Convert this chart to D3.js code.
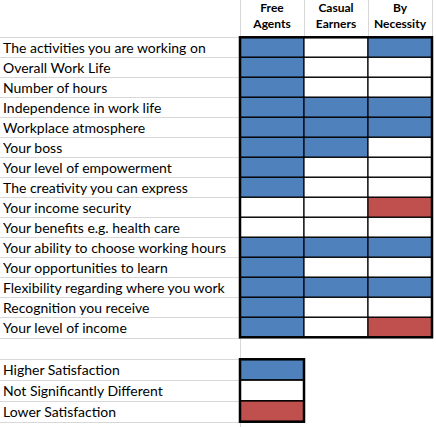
<!DOCTYPE html>
<html>
<head>
<meta charset="utf-8">
<script src="https://cdn.jsdelivr.net/npm/d3@7"></script>
<style>
  body { margin: 0; background: #fff; }
  text { font-family: Lato, "Open Sans", sans-serif; }
</style>
</head>
<body>
<script>
// satisfaction grid, one code per aspect: H higher, N not different, L lower
var aspects = [
  "The activities you are working on",
  "Overall Work Life",
  "Number of hours",
  "Independence in work life",
  "Workplace atmosphere",
  "Your boss",
  "Your level of empowerment",
  "The creativity you can express",
  "Your income security",
  "Your benefits e.g. health care",
  "Your ability to choose working hours",
  "Your opportunities to learn",
  "Flexibility regarding where you work",
  "Recognition you receive",
  "Your level of income"
];
var groups = ["Free Agents", "Casual Earners", "By Necessity"];
var groupLines = [["Free", "Agents"], ["Casual", "Earners"], ["By", "Necessity"]];

var freeAgents    = ["H","H","H","H","H","H","H","H","N","N","H","H","H","H","H"];
var casualEarners = ["N","N","N","H","H","H","N","N","N","N","H","N","H","N","N"];
var byNecessity   = ["H","N","N","H","H","N","N","N","L","N","H","N","H","N","L"];

var legendCodes = ["H", "N", "L"];
var legendLabels = ["Higher Satisfaction", "Not Significantly Different", "Lower Satisfaction"];

var width = 436, height = 427;
var labelW = 240;
var grid = "#d8d8d8";

var svg = d3.select("body").append("svg")
    .attr("width", width)
    .attr("height", height);

var color = d3.scaleOrdinal()
    .domain(["H", "N", "L"])
    .range(["#4f81bd", "#ffffff", "#c0504d"]);

var x = d3.scaleBand().domain(groups).range([240, 432]);
var y = d3.scaleBand().domain(aspects).range([37.3, 337.3]);
var yl = d3.scaleBand().domain(legendLabels).range([359.3, 421.7]);

// build cell table from the series
var series = [freeAgents, casualEarners, byNecessity];
var cells = [];
aspects.forEach(function(a, i) {
  groups.forEach(function(g, j) {
    cells.push({aspect: a, group: g, code: series[j][i]});
  });
});

// spreadsheet gridlines in label column
var hLines = y.domain().map(function(d) { return y(d); })
    .concat([y.range()[1] + 1, 359.3])
    .concat(yl.domain().map(function(d) { return yl(d) + yl.bandwidth(); }));
svg.selectAll("line.h")
    .data(hLines)
    .enter().append("line")
    .attr("class", "h")
    .attr("x1", 0).attr("x2", labelW)
    .attr("y1", function(d) { return Math.round(d) + 0.5; })
    .attr("y2", function(d) { return Math.round(d) + 0.5; })
    .attr("stroke", grid);

svg.append("line")
    .attr("x1", labelW + 0.5).attr("x2", labelW + 0.5)
    .attr("y1", 0).attr("y2", height)
    .attr("stroke", grid);

svg.selectAll("line.v")
    .data(groups)
    .enter().append("line")
    .attr("class", "v")
    .attr("x1", function(d) { return x(d) + x.bandwidth() + 0.5; })
    .attr("x2", function(d) { return x(d) + x.bandwidth() + 0.5; })
    .attr("y1", 0).attr("y2", 37)
    .attr("stroke", grid);

// header
var head = svg.selectAll("g.head")
    .data(groups)
    .enter().append("g")
    .attr("class", "head");
head.selectAll("text")
    .data(function(d, i) { return groupLines[i].map(function(t) { return {g: d, t: t}; }); })
    .enter().append("text")
    .attr("x", function(d) { return x(d.g) + x.bandwidth() / 2; })
    .attr("y", function(d, i) { return i ? 27.5 : 11.5; })
    .attr("text-anchor", "middle")
    .attr("font-size", "12px")
    .attr("font-weight", "bold")
    .text(function(d) { return d.t; });

// row labels
svg.selectAll("text.row")
    .data(aspects)
    .enter().append("text")
    .attr("class", "row")
    .attr("x", 3)
    .attr("y", function(d) { return y(d) + 15.8; })
    .attr("font-size", "14px")
    .text(function(d) { return d; });

// cells
svg.selectAll("rect.cell")
    .data(cells)
    .enter().append("rect")
    .attr("class", "cell")
    .attr("x", function(d) { return x(d.group); })
    .attr("y", function(d) { return y(d.aspect); })
    .attr("width", x.bandwidth())
    .attr("height", y.bandwidth())
    .attr("fill", function(d) { return color(d.code); })
    .attr("stroke", "#000")
    .attr("stroke-width", 1.2);

svg.append("rect")
    .attr("x", x.range()[0]).attr("y", y.range()[0])
    .attr("width", x.range()[1] - x.range()[0])
    .attr("height", y.range()[1] - y.range()[0])
    .attr("fill", "none")
    .attr("stroke", "#000")
    .attr("stroke-width", 2.5);

// legend
svg.selectAll("text.leg")
    .data(legendLabels)
    .enter().append("text")
    .attr("class", "leg")
    .attr("x", 3)
    .attr("y", function(d) { return yl(d) + 15.8; })
    .attr("font-size", "14px")
    .text(function(d) { return d; });

svg.selectAll("rect.leg")
    .data(legendLabels)
    .enter().append("rect")
    .attr("class", "leg")
    .attr("x", x(groups[0]))
    .attr("y", function(d) { return yl(d); })
    .attr("width", x.bandwidth())
    .attr("height", yl.bandwidth())
    .attr("fill", function(d, i) { return color(legendCodes[i]); })
    .attr("stroke", "#000")
    .attr("stroke-width", 1.5);

svg.append("rect")
    .attr("x", x(groups[0])).attr("y", yl.range()[0])
    .attr("width", x.bandwidth())
    .attr("height", yl.range()[1] - yl.range()[0])
    .attr("fill", "none")
    .attr("stroke", "#000")
    .attr("stroke-width", 2.5);
</script>
</body>
</html>
